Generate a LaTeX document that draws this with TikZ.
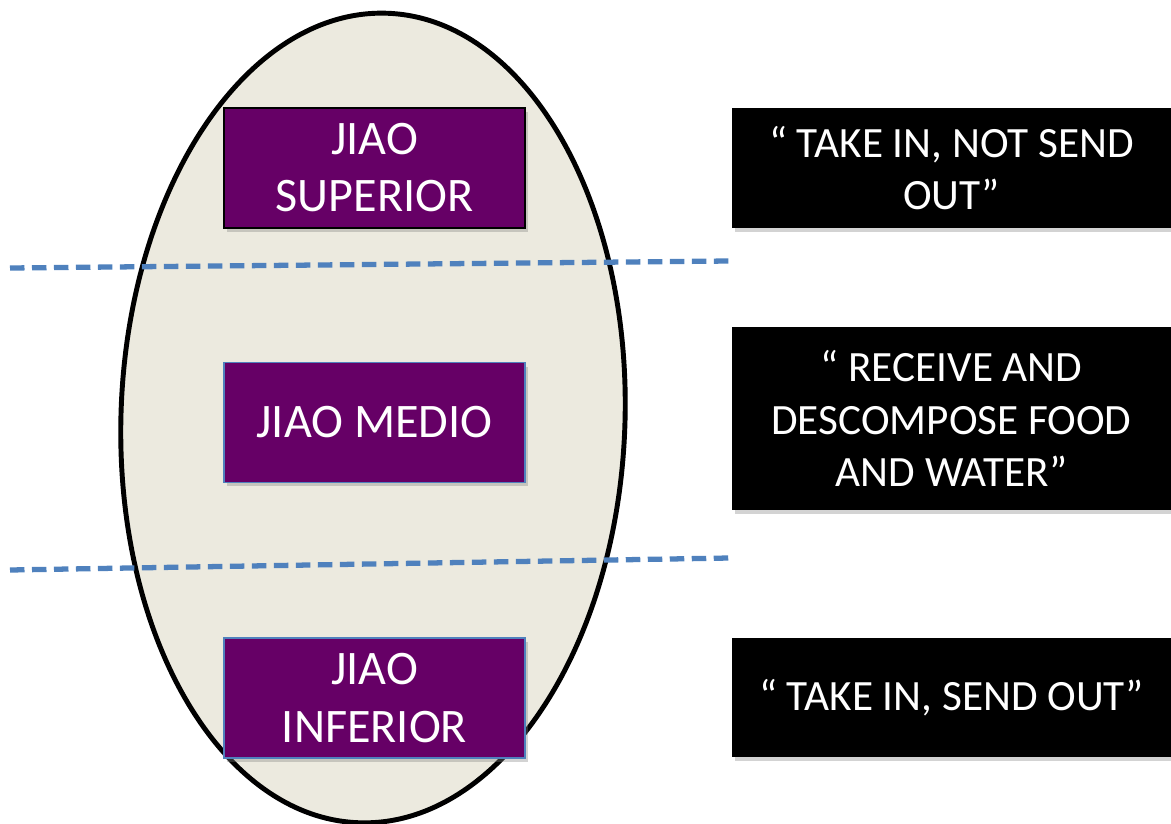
\documentclass[tikz,border=0pt]{standalone}
\usepackage{fontspec}
\setmainfont{Carlito}
\usepackage{tikz}
\usetikzlibrary{positioning, shadows}
\definecolor{jiaopurple}{HTML}{660066}
\definecolor{bodybeige}{HTML}{ECEADF}
\definecolor{lineblue}{HTML}{4F81BD}
\tikzset{%
    % boxes for the three jiao
    jiao/.style   = {rectangle, fill=jiaopurple, draw=lineblue, line width=0.8pt,
    text=white, align=center, minimum width=6.02cm, minimum height=2.4cm,
    inner sep=0pt, font=\fontsize{27.4}{32.5}\selectfont,
    drop shadow={opacity=0.35, shadow xshift=0.06cm, shadow yshift=-0.08cm}},
    % boxes for the functions
    quote/.style  = {rectangle, fill=black, text=white, align=center,
    minimum width=8.8cm, inner sep=0pt, font=\fontsize{24.6}{30}\selectfont,
    drop shadow={opacity=0.35, shadow xshift=0.06cm, shadow yshift=-0.08cm}},
    border/.style = {dashed, dash pattern=on 0.29cm off 0.15cm, line width=3pt, lineblue}
}
\begin{document}
\begin{tikzpicture}[x=0.02cm, y=-0.02cm]

    \useasboundingbox (0,0) rectangle (1171,824);
    \begin{scope}
    \clip (0,0) rectangle (1171,824);

    % the body
    \draw[line width=2.8pt, fill=bodybeige, rotate around={-2:(373,418)}]
        (373,418) ellipse [x radius=252, y radius=405];

    % the three jiao
    \node[jiao, draw=black] (s1) at (374.5,168) {JIAO\\SUPERIOR};
    \node[jiao] (s2) at (374.5,422.5) {JIAO MEDIO};
    \node[jiao] (s3) at (374.5,698) {JIAO\\INFERIOR};

    % what each one does
    \node[quote, minimum height=2.4cm] (t1) at (951.5,168) {“ TAKE IN, NOT SEND\\OUT”};
    \node[quote, minimum height=3.66cm] (t2) at (951.5,418.5) {“ RECEIVE AND\\DESCOMPOSE FOOD\\AND WATER”};
    \node[quote, minimum height=2.38cm] (t3) at (951.5,697.5) {“ TAKE IN, SEND OUT”};

    % borders between them
    \coordinate (l1) at (10,268);
    \coordinate (r1) at (730,261);
    \coordinate (l2) at (10,570);
    \coordinate (r2) at (730,558);
    \draw[border] (l1) -- (r1);
    \draw[border] (l2) -- (r2);
    \end{scope}

\end{tikzpicture}
\end{document}
